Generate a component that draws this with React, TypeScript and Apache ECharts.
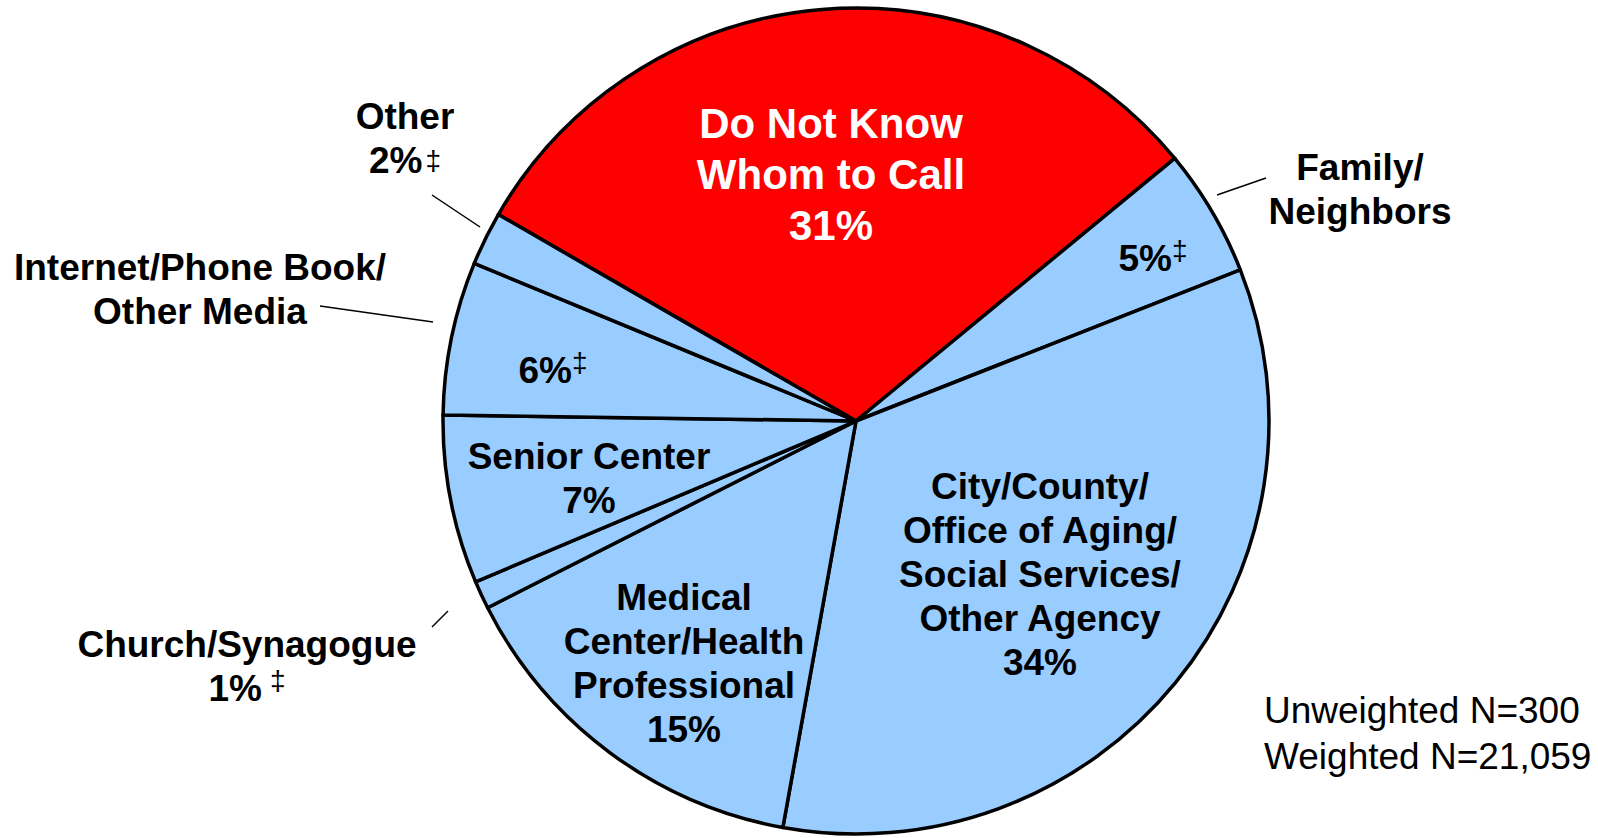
import React, { useEffect, useRef } from "react";
import * as echarts from "echarts";

// ---------- data ----------
const categories = [
  "Do Not Know Whom to Call",
  "Family/Neighbors",
  "City/County/Office of Aging/Social Services/Other Agency",
  "Medical Center/Health Professional",
  "Church/Synagogue",
  "Senior Center",
  "Internet/Phone Book/Other Media",
  "Other",
];
const shares = [30.7, 5.0, 33.8, 14.7, 1.1, 6.6, 6.0, 2.1];
const percentLabels = ["31%", "5%", "34%", "15%", "1%", "7%", "6%", "2%"];
const lowPrecision = [false, true, false, false, true, false, true, true];
const insideNames = [
  "Do Not Know\nWhom to Call",
  "",
  "City/County/\nOffice of Aging/\nSocial Services/\nOther Agency",
  "Medical\nCenter/Health\nProfessional",
  "",
  "Senior Center",
  "",
  "",
];
const outsideNames = [
  "",
  "Family/\nNeighbors",
  "",
  "",
  "Church/Synagogue",
  "",
  "Internet/Phone Book/\nOther Media",
  "Other",
];
const percentInside = [true, true, true, true, false, true, true, false];
const sampleNotes = ["Unweighted N=300", "Weighted N=21,059"];

// ---------- layout / style ----------
const FONT = "'Liberation Sans', Arial, Helvetica, sans-serif";
const CENTER = [856, 421];
const RADIUS = 413;
const BLUE = "#99CCFF";
const RED = "#FF0000";

const insideLayout: Record<number, { x: number; y: number }> = {
  0: { x: 831, y: 174 },
  1: { x: 1153, y: 258 },
  2: { x: 1040, y: 574 },
  3: { x: 684, y: 663 },
  5: { x: 589, y: 478 },
  6: { x: 553, y: 370 },
};
const outsideLayout: Record<number, { x: number; y: number; line: number[][] }> = {
  1: { x: 1360, y: 189, line: [[1217, 195], [1266, 178]] },
  4: { x: 247, y: 666, line: [[432, 627], [448, 611]] },
  6: { x: 200, y: 289, line: [[320, 306], [433, 322]] },
  7: { x: 405, y: 138, line: [[432, 195], [480, 227]] },
};
const daggerStyle: Record<number, string> = { 1: "sup", 4: "sup2", 6: "mid", 7: "mid2" };

const rich: any = {
  w: { color: "#fff", fontSize: 42, fontWeight: "bold", lineHeight: 51, fontFamily: FONT },
  s: { color: "#000", fontSize: 37, fontWeight: "bold", lineHeight: 44, fontFamily: FONT },
  sup: { color: "#000", fontSize: 28, fontWeight: "normal", lineHeight: 16, verticalAlign: "top", fontFamily: FONT },
  sup2: { color: "#000", fontSize: 28, fontWeight: "normal", lineHeight: 36, verticalAlign: "top", padding: [0, 0, 0, 8], fontFamily: FONT },
  mid: { color: "#000", fontSize: 28, fontWeight: "normal", lineHeight: 40, verticalAlign: "top", fontFamily: FONT },
  mid2: { color: "#000", fontSize: 28, fontWeight: "normal", lineHeight: 44, padding: [0, 0, 0, 3], fontFamily: FONT },
};

function pctLine(i: number, st: string) {
  return `{${st}|${percentLabels[i]}}` + (lowPrecision[i] ? `{${daggerStyle[i] || "mid"}|‡}` : "");
}

function insideText(i: number): string {
  const st = i === 0 ? "w" : "s";
  const lines: string[] = [];
  if (insideNames[i]) insideNames[i].split("\n").forEach((l) => lines.push(`{${st}|${l}}`));
  if (percentInside[i]) lines.push(pctLine(i, st));
  if (!insideNames[i] && !percentInside[i]) return "";
  return lines.join("\n");
}

function outsideText(i: number): string {
  if (!outsideNames[i]) return "";
  const lines = outsideNames[i].split("\n").map((l) => `{s|${l}}`);
  if (!percentInside[i]) lines.push(pctLine(i, "s"));
  return lines.join("\n");
}

export default function App() {
  const ref = useRef<HTMLDivElement>(null);
  useEffect(() => {
    document.body.style.margin = "0";
    document.body.style.overflow = "hidden";
    if (!ref.current) return;
    const chart = echarts.init(ref.current, undefined, { renderer: "svg" });
    const option: any = {
      animation: false,
      backgroundColor: "#ffffff",
      textStyle: { fontFamily: FONT },
      series: [
        {
          type: "pie",
          center: CENTER,
          radius: RADIUS,
          startAngle: 150,
          clockwise: true,
          avoidLabelOverlap: false,
          silent: true,
          emphasis: { disabled: true },
          itemStyle: { borderColor: "#000", borderWidth: 3.5 },
          label: {
            show: true,
            position: "inside",
            formatter: (p: any) => insideText(p.dataIndex),
            rich,
          },
          labelLine: { show: false },
          labelLayout: (p: any) => {
            const l = insideLayout[p.dataIndex];
            return l ? { x: l.x, y: l.y, align: "center", verticalAlign: "middle" } : {};
          },
          data: categories.map((name, i) => ({
            name,
            value: shares[i],
            itemStyle: { color: i === 0 ? RED : BLUE },
            label: { show: insideText(i) !== "" },
          })),
        },
        {
          type: "pie",
          center: CENTER,
          radius: RADIUS,
          startAngle: 150,
          clockwise: true,
          avoidLabelOverlap: false,
          silent: true,
          emphasis: { disabled: true },
          itemStyle: { color: "rgba(0,0,0,0)", borderWidth: 0 },
          label: {
            show: true,
            position: "outside",
            formatter: (p: any) => outsideText(p.dataIndex),
            rich,
          },
          labelLine: { show: true, lineStyle: { color: "#000", width: 1.5 } },
          labelLayout: (p: any) => {
            const l = outsideLayout[p.dataIndex];
            return l
              ? { x: l.x, y: l.y, align: "center", verticalAlign: "middle", labelLinePoints: l.line }
              : {};
          },
          data: categories.map((name, i) => ({
            name,
            value: shares[i],
            label: { show: outsideText(i) !== "" },
            labelLine: { show: outsideText(i) !== "" },
          })),
        },
      ],
      graphic: [
        {
          type: "text",
          left: 1264,
          top: 687,
          style: {
            text: sampleNotes.join("\n"),
            fontSize: 37,
            fontFamily: FONT,
            fill: "#000",
            lineHeight: 46,
          },
        },
      ],
    };
    chart.setOption(option);
    return () => chart.dispose();
  }, []);
  return <div ref={ref} style={{ width: 1598, height: 838 }} />;
}
